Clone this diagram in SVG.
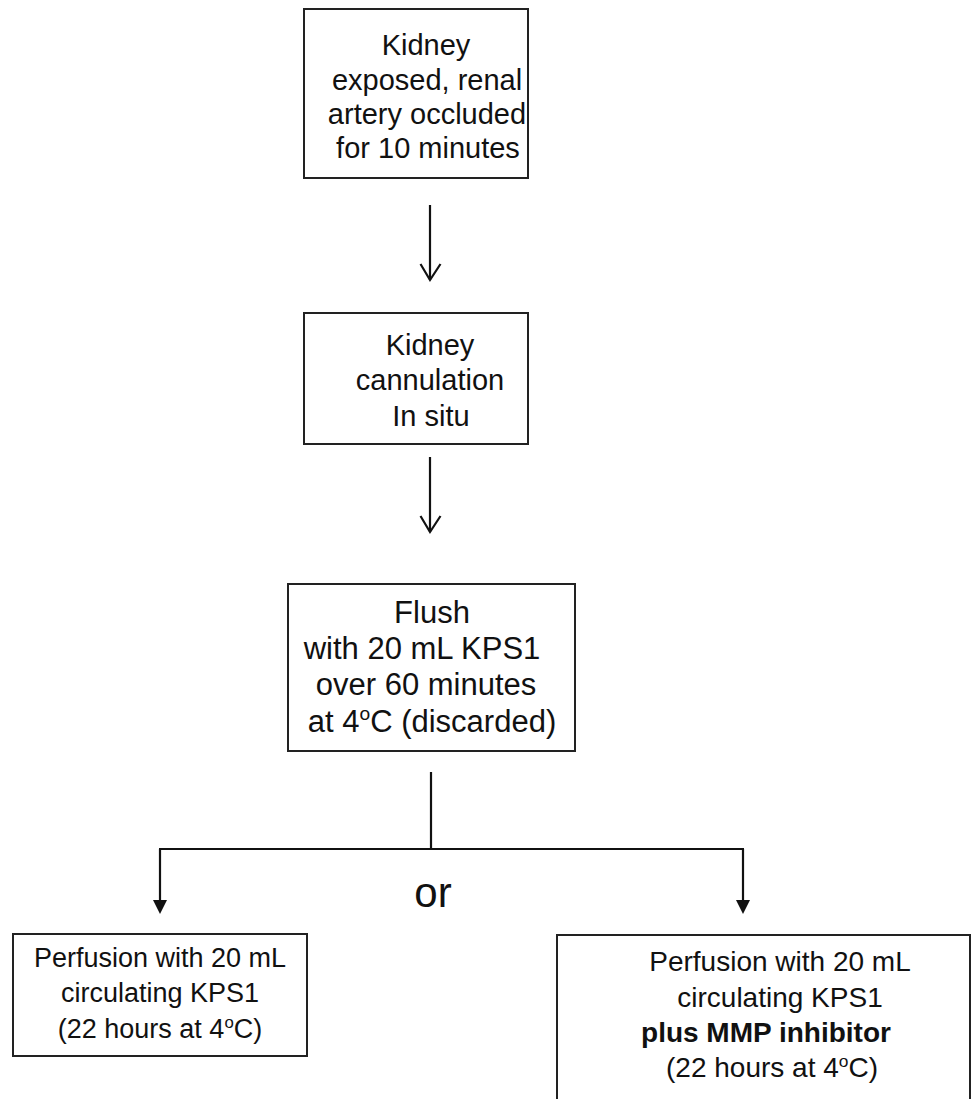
<svg xmlns="http://www.w3.org/2000/svg" width="972" height="1099" viewBox="0 0 972 1099">
<style>
.box{fill:#fff;stroke:#222;stroke-width:2}
.t{font-family:"Liberation Sans",Arial,sans-serif;font-size:29px;fill:#111;text-anchor:middle}
.t3{font-size:31px}
.t4{font-size:27px}
.t5{font-size:28px}
.ln{stroke:#111;stroke-width:2.2;fill:none}
.head{fill:#111;stroke:none}
.sup{font-size:0.62em}
</style>
<rect width="972" height="1099" fill="#fff"/>
<g id="connectors">
<line class="ln" x1="430" y1="205" x2="430" y2="280"/>
<polyline class="ln" points="420.5,264 430,280 440.5,264"/>
<line class="ln" x1="430" y1="457" x2="430" y2="532"/>
<polyline class="ln" points="420.5,516 430,532 440.5,516"/>
<line class="ln" x1="431" y1="772" x2="431" y2="849"/>
<line class="ln" x1="159" y1="849" x2="744" y2="849"/>
<line class="ln" x1="160" y1="849" x2="160" y2="902"/>
<polygon class="head" points="153,900 167,900 160,914"/>
<line class="ln" x1="743" y1="849" x2="743" y2="902"/>
<polygon class="head" points="736,900 750,900 743,914"/>
</g>
<g id="n1">
<rect class="box" x="304" y="9" width="224" height="169"/>
<text class="t" x="426" y="55">Kidney</text>
<text class="t" x="427" y="90">exposed, renal</text>
<text class="t" x="427" y="124">artery occluded</text>
<text class="t" x="428" y="158">for 10 minutes</text>
</g>
<g id="n2">
<rect class="box" x="304" y="313" width="224" height="131"/>
<text class="t" x="430" y="355">Kidney</text>
<text class="t" x="430" y="390">cannulation</text>
<text class="t" x="431" y="426">In situ</text>
</g>
<g id="n3">
<rect class="box" x="288" y="584" width="287" height="167"/>
<text class="t t3" x="432" y="623">Flush</text>
<text class="t t3" x="422" y="659">with 20 mL KPS1</text>
<text class="t t3" x="426" y="695">over 60 minutes</text>
<text class="t t3" x="432" y="732">at 4<tspan class="sup" dy="-12">o</tspan><tspan dy="12">C (discarded)</tspan></text>
</g>
<g id="or">
<text class="t" x="433" y="907" style="font-size:42px">or</text>
</g>
<g id="n4">
<rect class="box" x="13" y="934" width="294" height="122"/>
<text class="t t4" x="160" y="967">Perfusion with 20 mL</text>
<text class="t t4" x="160" y="1002">circulating KPS1</text>
<text class="t t4" x="160" y="1038">(22 hours at 4<tspan class="sup" dy="-10">o</tspan><tspan dy="10">C)</tspan></text>
</g>
<g id="n5">
<rect class="box" x="557" y="935" width="413" height="180"/>
<text class="t t5" x="780" y="971">Perfusion with 20 mL</text>
<text class="t t5" x="780" y="1007">circulating KPS1</text>
<text class="t t5" x="766" y="1042" font-weight="bold">plus MMP inhibitor</text>
<text class="t t5" x="772" y="1077">(22 hours at 4<tspan class="sup" dy="-10">o</tspan><tspan dy="10">C)</tspan></text>
</g>
</svg>
